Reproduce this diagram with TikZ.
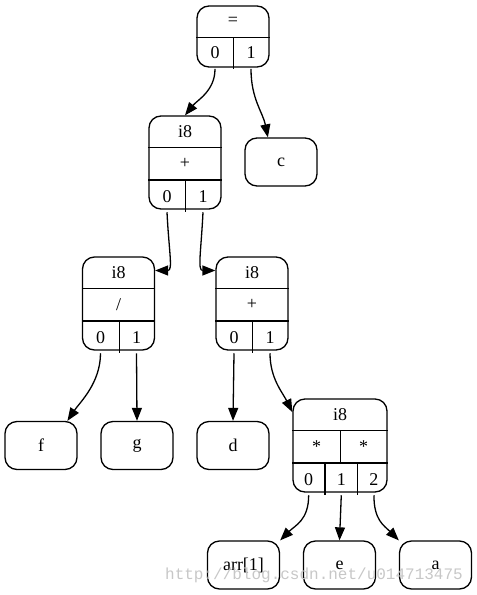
\documentclass[tikz,border=0pt]{standalone}
\usepackage{fontspec}
\setmainfont{Liberation Serif}
\newfontfamily\wmfont{Liberation Mono}
\usepackage{tikz}
\usetikzlibrary{positioning}
\usetikzlibrary{arrows.meta}
\tikzset{
  box/.style    = { rectangle, inner sep=0pt },
  border/.style = { draw=black, line width=1.3pt },
  round/.style  = { rounded corners=12pt },
}
\tikzset{
  frame/.style  = { box, border, round, minimum width=72pt },
  leaf/.style   = { frame, minimum height=48pt },
  cell/.style   = { box, minimum height=31pt },
  port/.style   = { cell, minimum width=36pt },
  sep/.style    = { line width=1.3pt },
}
\begin{document}
\begin{tikzpicture}[
  x=1pt,y=-1pt,
  font=\fontsize{18}{20}\selectfont,
  >={Triangle[length=13pt,width=10pt]},
  line width=1.3pt
]
  \useasboundingbox (0,0) rectangle (477,595);

  % record: =
  \node (eq)    [frame, minimum height=61pt] at (233,36.5) {};
  \node (eqop)  [cell, minimum height=30.5pt, minimum width=72pt, below=0pt of eq.north] {=};
  \node (eqp0)  [port, minimum height=30.5pt, below right=0pt of eqop.south west] {0};
  \node (eqp1)  [port, minimum height=30.5pt, below left=0pt of eqop.south east]  {1};
  \draw [sep] (eqop.south west) -- (eqop.south east);
  \draw [sep] (eqp0.north east) -- (eqp0.south east);

  % record: i8 +
  \node (addA)   [frame, minimum height=93pt] at (185,162.5) {};
  \node (addAty) [cell, minimum width=72pt, below=0pt of addA.north] {i8};
  \node (addAop) [cell, minimum width=72pt, below=0pt of addAty.south] {+};
  \node (addAp0) [port, below right=0pt of addAop.south west] {0};
  \node (addAp1) [port, below left=0pt of addAop.south east]  {1};
  \draw [sep] (addAty.south west) -- (addAty.south east);
  \draw [sep] (addAop.south west) -- (addAop.south east);
  \draw [sep] (addAp0.north east) -- (addAp0.south east);

  \node (c) [leaf] at (281,162) {c};

  % record: i8 /
  \node (div)   [frame, minimum height=93pt] at (118.5,303.5) {};
  \node (divty) [cell, minimum width=72pt, below=0pt of div.north] {i8};
  \node (divop) [cell, minimum width=72pt, below=0pt of divty.south] {/};
  \node (divp0) [port, below right=0pt of divop.south west] {0};
  \node (divp1) [port, below left=0pt of divop.south east]  {1};
  \draw [sep] (divty.south west) -- (divty.south east);
  \draw [sep] (divop.south west) -- (divop.south east);
  \draw [sep] (divp0.north east) -- (divp0.south east);

  % record: i8 + (second)
  \node (addB)   [frame, minimum height=93pt] at (252,303.5) {};
  \node (addBty) [cell, minimum width=72pt, below=0pt of addB.north] {i8};
  \node (addBop) [cell, minimum width=72pt, below=0pt of addBty.south] {+};
  \node (addBp0) [port, below right=0pt of addBop.south west] {0};
  \node (addBp1) [port, below left=0pt of addBop.south east]  {1};
  \draw [sep] (addBty.south west) -- (addBty.south east);
  \draw [sep] (addBop.south west) -- (addBop.south east);
  \draw [sep] (addBp0.north east) -- (addBp0.south east);

  \node (f) [leaf] at (41,445.5)  {f};
  \node (g) [leaf] at (137,445.5) {g};
  \node (d) [leaf] at (233,445.5) {d};

  % record: i8 * *
  \node (mul)    [frame, minimum width=94pt, minimum height=93pt] at (340,445.5) {};
  \node (multy)  [cell, minimum width=94pt, below=0pt of mul.north] {i8};
  \node (mulopA) [cell, minimum width=47pt, below right=0pt of multy.south west] {*};
  \node (mulopB) [cell, minimum width=47pt, below left=0pt of multy.south east]  {*};
  \node (mulp0)  [cell, minimum width=31.33pt, below right=0pt of mulopA.south west] {0};
  \node (mulp1)  [cell, minimum width=31.33pt, right=0pt of mulp0] {1};
  \node (mulp2)  [cell, minimum width=31.33pt, right=0pt of mulp1] {2};
  \draw [sep] (multy.south west) -- (multy.south east);
  \draw [sep] (mulopA.south west) -- (mulopB.south east);
  \draw [sep] (mulopA.north east) -- (mulopA.south east);
  \draw [sep] (mulp0.north east) -- (mulp0.south east);
  \draw [sep] (mulp1.north east) -- (mulp1.south east);

  \node (arr) [leaf] at (243.5,565) {arr[1]};
  \node (e)   [leaf] at (339.5,565) {e};
  \node (a)   [leaf] at (435.5,565) {a};

  \node (watermark) [text=black!22, font=\wmfont\fontsize{16}{18}\selectfont] at (314,575)
        {http://blog.csdn.net/u014713475};

  \draw [->] (eqp0.south)   .. controls +(0,22) and +(12,-15) .. (addA.north);
  \draw [->] (eqp1.south)   .. controls +(0,30) and +(-5,-25) .. (c.118);
  \draw [->] (addAp0.south) .. controls +(2,40) and +(18,0)   .. (div.42);
  \draw [->] (addAp1.south) .. controls +(-2,40) and +(-18,0) .. (addB.138);
  \draw [->] (divp0.south)  .. controls +(0,30) and +(12,-18) .. (f.43);
  \draw [->] (divp1.south)  -- (g.north);
  \draw [->] (addBp0.south) -- (d.north);
  \draw [->] (addBp1.south) .. controls +(0,25) and +(-10,-20) .. (mul.145);
  \draw [->] (mulp0.south)  .. controls +(0,25) and +(15,-15) .. (arr.north east);
  \draw [->] (mulp1.south)  -- (e.north);
  \draw [->] (mulp2.south)  .. controls +(0,25) and +(-15,-15) .. (a.north west);

\end{tikzpicture}
\end{document}
